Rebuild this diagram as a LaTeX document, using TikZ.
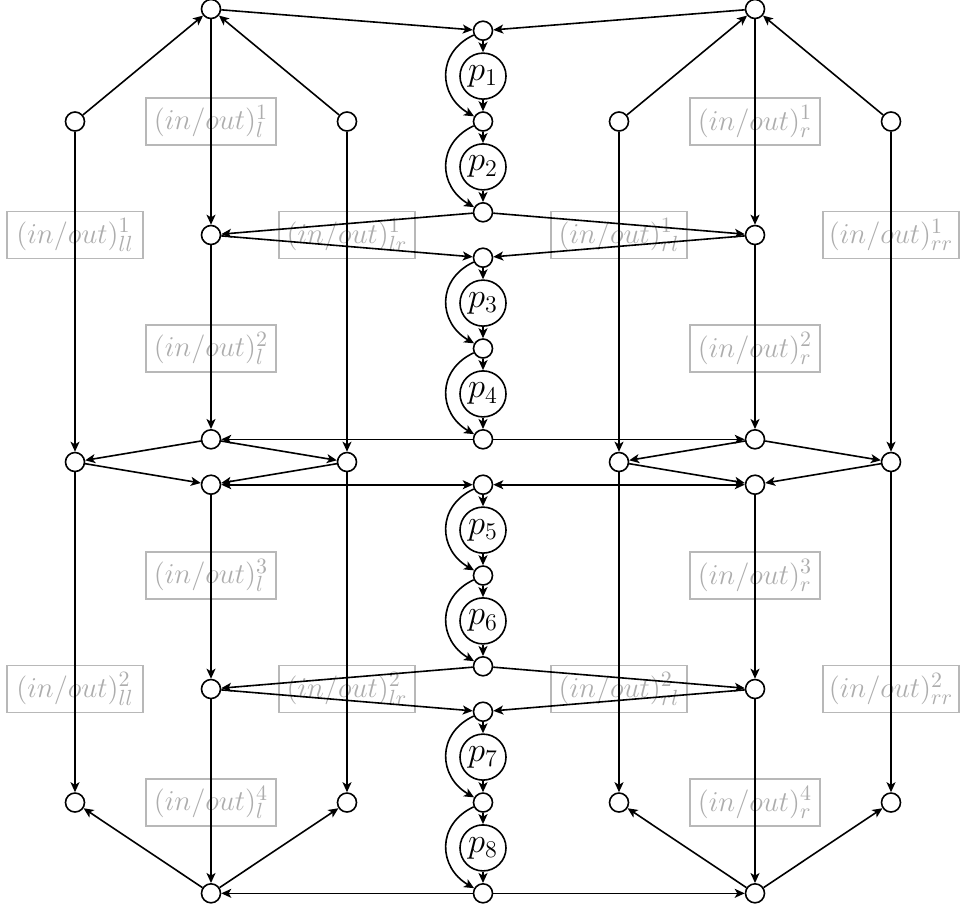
\documentclass[tikz,border=0pt]{standalone}
\usetikzlibrary{arrows.meta}
\begin{document}
\begin{tikzpicture}[x=0.5pt,y=0.5pt,
  tip/.tip={Stealth[length=5pt,width=4.5pt,inset=1.3pt]},
  arr/.style={-tip, line width=0.8pt},
  darr/.style={tip-tip, line width=0.8pt},
  dot/.style={circle,draw,line width=0.8pt,minimum size=9.5pt,inner sep=0pt},
  pnode/.style={circle,draw,line width=0.8pt,minimum size=23pt,inner sep=0pt,font=\fontsize{17}{19}\selectfont},
  lab/.style={draw=black!28,text=black!32,line width=0.6pt,minimum width=65pt,minimum height=23.5pt,inner sep=1.5pt,font=\fontsize{15}{17}\selectfont},
  labw/.style={lab,minimum width=68pt}
]
\useasboundingbox (0,0) rectangle (961,-911);

% ---- labels (drawn first, lines pass over them)
\foreach \k/\y in {1/-121.5, 2/-348.5, 3/-575.5, 4/-802.5}{
  \node[lab] (labl\k) at (211,\y) {$(in/out)^{\k}_{l}$};
  \node[lab] (labr\k) at (755,\y) {$(in/out)^{\k}_{r}$};
}
\foreach \k/\y in {1/-235.0, 2/-689.0}{
  \node[labw] (labll\k) at (75,\y) {$(in/out)^{\k}_{ll}$};
  \node[labw] (lablr\k) at (347,\y) {$(in/out)^{\k}_{lr}$};
  \node[labw] (labrl\k) at (619,\y) {$(in/out)^{\k}_{rl}$};
  \node[labw] (labrr\k) at (891,\y) {$(in/out)^{\k}_{rr}$};
}

% ---- centre column
\foreach \n/\y in {0/-30.7, 2/-121.5, 4/-212.3, 5/-257.7, 7/-348.5, 9/-439.3,
                   10/-484.7, 12/-575.5, 14/-666.3, 15/-711.7, 17/-802.5, 19/-893.3}
  \node[dot] (c\n) at (483,\y) {};
\foreach \i/\y in {1/-76.1, 2/-166.9, 3/-303.1, 4/-393.9, 5/-530.1, 6/-620.9, 7/-757.1, 8/-847.9}
  \node[pnode] (p\i) at (483,\y) {$p_{\i}$};
\foreach \a/\p/\b in {0/1/2, 2/2/4, 5/3/7, 7/4/9, 10/5/12, 12/6/14, 15/7/17, 17/8/19}{
  \draw[arr] (c\a) -- (p\p);
  \draw[arr] (p\p) -- (c\b);
  \draw[arr] (c\a) to[out=205,in=150,looseness=1.3] (c\b);
}

% ---- left side
\node[dot] (LT) at (211,-9) {};
\node[dot] (LA1) at (75,-121.5) {};
\node[dot] (LB1) at (347,-121.5) {};
\node[dot] (LM1) at (211,-235.0) {};
\node[dot] (LM2) at (211,-439.3) {};
\node[dot] (LA2) at (75,-462.0) {};
\node[dot] (LB2) at (347,-462.0) {};
\node[dot] (LM3) at (211,-484.7) {};
\node[dot] (LM4) at (211,-689.0) {};
\node[dot] (LA3) at (75,-802.5) {};
\node[dot] (LB3) at (347,-802.5) {};
\node[dot] (LBot) at (211,-893.3) {};

% ---- right side
\node[dot] (RT) at (755,-9) {};
\node[dot] (RA1) at (619,-121.5) {};
\node[dot] (RB1) at (891,-121.5) {};
\node[dot] (RM1) at (755,-235.0) {};
\node[dot] (RM2) at (755,-439.3) {};
\node[dot] (RA2) at (619,-462.0) {};
\node[dot] (RB2) at (891,-462.0) {};
\node[dot] (RM3) at (755,-484.7) {};
\node[dot] (RM4) at (755,-689.0) {};
\node[dot] (RA3) at (619,-802.5) {};
\node[dot] (RB3) at (891,-802.5) {};
\node[dot] (RBot) at (755,-893.3) {};

\foreach \s in {L,R}{
  \draw[arr] (\s A1) -- (\s T);
  \draw[arr] (\s B1) -- (\s T);
  \draw[arr] (\s T) -- (c0);
  \draw[arr] (\s T) -- (\s M1);
  \draw[arr] (c4) -- (\s M1);
  \draw[arr] (\s M1) -- (c5);
  \draw[arr] (\s M1) -- (\s M2);
  \draw[arr] (c9) -- (\s M2);
  \draw[arr] (\s M2) -- (\s A2);
  \draw[arr] (\s M2) -- (\s B2);
  \draw[arr] (\s A1) -- (\s A2);
  \draw[arr] (\s B1) -- (\s B2);
  \draw[arr] (\s A2) -- (\s M3);
  \draw[arr] (\s B2) -- (\s M3);
  \draw[darr] (\s M3) -- (c10);
  \draw[arr] (\s M3) -- (\s M4);
  \draw[arr] (c14) -- (\s M4);
  \draw[arr] (\s M4) -- (c15);
  \draw[arr] (\s M4) -- (\s Bot);
  \draw[arr] (c19) -- (\s Bot);
  \draw[arr] (\s Bot) -- (\s A3);
  \draw[arr] (\s Bot) -- (\s B3);
  \draw[arr] (\s A2) -- (\s A3);
  \draw[arr] (\s B2) -- (\s B3);
}
\end{tikzpicture}
\end{document}
